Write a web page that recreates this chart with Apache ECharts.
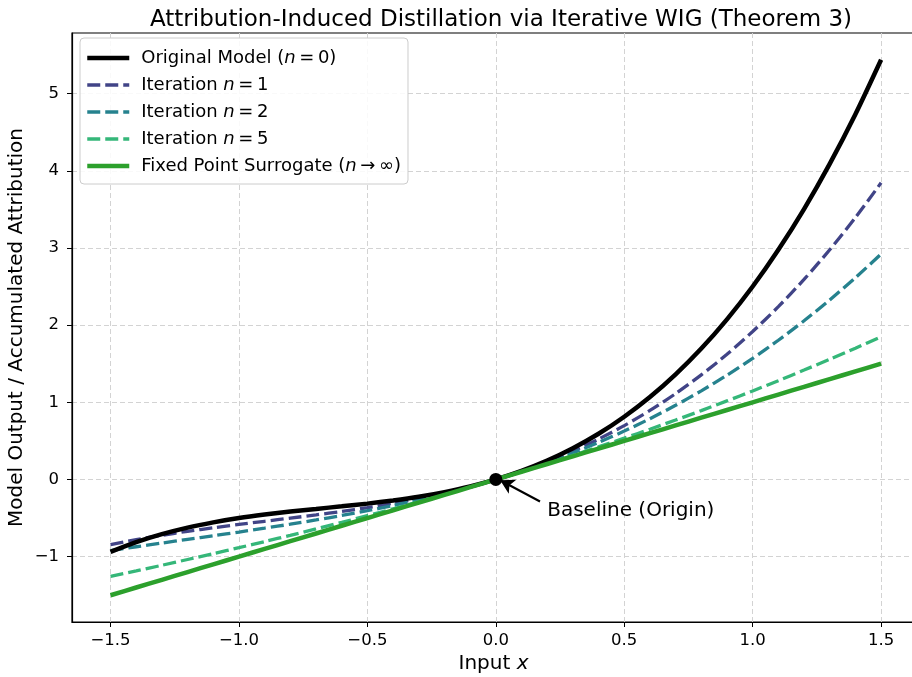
<!DOCTYPE html>
<html>
<head>
<meta charset="utf-8">
<script src="https://cdn.jsdelivr.net/npm/echarts@6/dist/echarts.min.js"></script>
<style>
  html, body { margin: 0; padding: 0; background: #fff; }
  #chart { width: 912px; height: 677px; }
</style>
</head>
<body>
<div id="chart"></div>
<script>
// x samples
const xs = [-1.5, -1.4, -1.3, -1.2, -1.1, -1.0, -0.9, -0.8, -0.7, -0.6, -0.5, -0.4, -0.3, -0.2, -0.1,
  0, 0.1, 0.2, 0.3, 0.4, 0.5, 0.6, 0.7, 0.8, 0.9, 1.0, 1.1, 1.2, 1.3, 1.4, 1.5];

// curves
const original = [-0.938, -0.812, -0.709, -0.624, -0.556, -0.5, -0.455, -0.416, -0.382, -0.348, -0.313, -0.272, -0.224, -0.164, -0.091,
  0, 0.111, 0.244, 0.404, 0.592, 0.813, 1.068, 1.362, 1.696, 2.075, 2.5, 2.976, 3.504, 4.089, 4.732, 5.438];
const iter1 = [-0.844, -0.779, -0.723, -0.672, -0.626, -0.583, -0.542, -0.501, -0.459, -0.414, -0.365, -0.309, -0.247, -0.175, -0.094,
  0, 0.107, 0.229, 0.367, 0.523, 0.698, 0.894, 1.112, 1.355, 1.622, 1.917, 2.239, 2.592, 2.976, 3.393, 3.844];
const iter2 = [-0.922, -0.872, -0.824, -0.776, -0.729, -0.681, -0.631, -0.580, -0.525, -0.467, -0.405, -0.337, -0.263, -0.183, -0.096,
  0, 0.105, 0.219, 0.343, 0.479, 0.627, 0.787, 0.961, 1.148, 1.351, 1.569, 1.804, 2.056, 2.326, 2.614, 2.922];
const iter5 = [-1.256, -1.185, -1.112, -1.037, -0.961, -0.884, -0.805, -0.724, -0.641, -0.556, -0.469, -0.380, -0.289, -0.195, -0.099,
  0, 0.101, 0.205, 0.312, 0.422, 0.535, 0.651, 0.770, 0.892, 1.018, 1.147, 1.280, 1.417, 1.557, 1.701, 1.849];
const fixedPoint = [-1.5, -1.4, -1.3, -1.2, -1.1, -1.0, -0.9, -0.8, -0.7, -0.6, -0.5, -0.4, -0.3, -0.2, -0.1,
  0, 0.1, 0.2, 0.3, 0.4, 0.5, 0.6, 0.7, 0.8, 0.9, 1.0, 1.1, 1.2, 1.3, 1.4, 1.5];

const xTicks = [-1.5, -1.0, -0.5, 0, 0.5, 1.0, 1.5];
const yTicks = [-1, 0, 1, 2, 3, 4, 5];

const legendNames = {
  orig: '{a|Original Model (}{i|n}{a|\u2009=\u20090)}',
  n1: '{a|Iteration }{i|n}{a|\u2009=\u20091}',
  n2: '{a|Iteration }{i|n}{a|\u2009=\u20092}',
  n5: '{a|Iteration }{i|n}{a|\u2009=\u20095}',
  fixed: '{a|Fixed Point Surrogate (}{i|n}{a|\u2009\u2192\u2009\u221e)}'
};

const colors = { orig: '#000000', n1: '#414487', n2: '#26828e', n5: '#35b779', fixed: '#2ca02c' };
const dash = [13, 5];

const pair = (ys) => xs.map((x, i) => [x, ys[i]]);
const minus = (s) => String(s).replace('-', '\u2212');

const chart = echarts.init(document.getElementById('chart'));

const gridLine = { show: true, lineStyle: { color: '#d3d3d3', type: [5, 3], width: 1 } };
const font = 'DejaVu Sans';

function lineSeries(key, data, width, dashed) {
  return {
    name: key,
    type: 'line',
    data: pair(data),
    showSymbol: false,
    symbol: 'none',
    smooth: 0.25,
    lineStyle: { color: colors[key], width: width, type: dashed ? dash : 'solid', cap: 'butt' },
    itemStyle: { color: colors[key] },
    z: dashed ? 3 : 4
  };
}

function legendItem(key, width, dashed) {
  return {
    name: key,
    lineStyle: { color: colors[key], width: width, type: dashed ? dash : 'solid', cap: 'butt' },
    itemStyle: { opacity: 0, borderWidth: 0 }
  };
}

const option = {
  backgroundColor: '#fff',
  animation: false,
  title: {
    text: 'Attribution-Induced Distillation via Iterative WIG (Theorem 3)',
    left: 496, top: 4, textAlign: 'center',
    textStyle: { fontFamily: font, fontSize: 23, fontWeight: 'normal', color: '#000' }
  },
  grid: {
    left: 72, top: 33, width: 843, height: 589,
    outerBoundsMode: 'none', containLabel: false,
    show: true, borderColor: '#000', borderWidth: 1.2
  },
  legend: {
    left: 80, top: 38, orient: 'vertical',
    itemWidth: 42, itemHeight: 14, itemGap: 9,
    padding: [11, 7, 9, 5],
    borderColor: '#cccccc', borderWidth: 1, borderRadius: 4,
    backgroundColor: 'rgba(255,255,255,0.85)',
    itemStyle: { opacity: 0, borderWidth: 0 },
    data: [
      legendItem('orig', 4.5, false),
      legendItem('n1', 3.3, true),
      legendItem('n2', 3.3, true),
      legendItem('n5', 3.3, true),
      legendItem('fixed', 4.5, false)
    ],
    formatter: (name) => legendNames[name],
    textStyle: {
      fontFamily: font, fontSize: 18, color: '#000', padding: [0, 0, 0, 7],
      rich: {
        a: { fontFamily: font, fontSize: 18, lineHeight: 18, color: '#000' },
        i: { fontFamily: font, fontSize: 18, lineHeight: 18, color: '#000', fontStyle: 'italic' }
      }
    }
  },
  xAxis: {
    type: 'value', min: -1.65, max: 1.632,
    name: '{a|Input }{i|x}', nameLocation: 'middle', nameGap: 32,
    nameTextStyle: {
      rich: {
        a: { fontFamily: font, fontSize: 20, color: '#000' },
        i: { fontFamily: font, fontSize: 20, color: '#000', fontStyle: 'italic' }
      }
    },
    axisLine: { show: true, onZero: false, lineStyle: { color: '#000', width: 1.2 } },
    axisTick: { show: true, inside: false, length: 5, customValues: xTicks, lineStyle: { color: '#000' } },
    axisLabel: {
      customValues: xTicks, margin: 10, color: '#000', fontFamily: font, fontSize: 16.5,
      formatter: (v) => minus(Number(v).toFixed(1))
    },
    splitLine: gridLine
  },
  yAxis: {
    type: 'value', min: -1.847, max: 5.785,
    name: 'Model Output / Accumulated Attribution', nameLocation: 'middle', nameGap: 45,
    nameMoveOverlap: false,
    nameTextStyle: { fontFamily: font, fontSize: 20, color: '#000' },
    axisLine: { show: true, onZero: false, lineStyle: { color: '#000', width: 1.2 } },
    axisTick: { show: true, inside: false, length: 5, customValues: yTicks, lineStyle: { color: '#000' } },
    axisLabel: {
      customValues: yTicks, margin: 13, color: '#000', fontFamily: font, fontSize: 16.5,
      formatter: (v) => minus(Math.round(v))
    },
    splitLine: gridLine
  },
  series: [
    lineSeries('orig', original, 4.5, false),
    lineSeries('n1', iter1, 3.3, true),
    lineSeries('n2', iter2, 3.3, true),
    lineSeries('n5', iter5, 3.3, true),
    lineSeries('fixed', fixedPoint, 4.5, false),
    {
      name: 'baseline',
      type: 'scatter',
      data: [[0, 0]],
      symbolSize: 13,
      itemStyle: { color: '#000', opacity: 1 },
      z: 6,
      markLine: {
        silent: true,
        symbol: ['none', 'arrow'],
        symbolSize: [12, 14],
        label: { show: false },
        lineStyle: { color: '#000', width: 2.2, type: 'solid', opacity: 1 },
        data: [[{ coord: [0.172, -0.285] }, { coord: [0.017, -0.01] }]]
      }
    },
    {
      name: 'note',
      type: 'scatter',
      data: [[0.2, -0.41]],
      symbolSize: 0,
      itemStyle: { opacity: 1 },
      label: {
        show: true, position: 'right', distance: 0,
        formatter: 'Baseline (Origin)',
        fontFamily: font, fontSize: 20, color: '#000'
      },
      z: 6
    }
  ]
};

chart.setOption(option);
</script>
</body>
</html>
